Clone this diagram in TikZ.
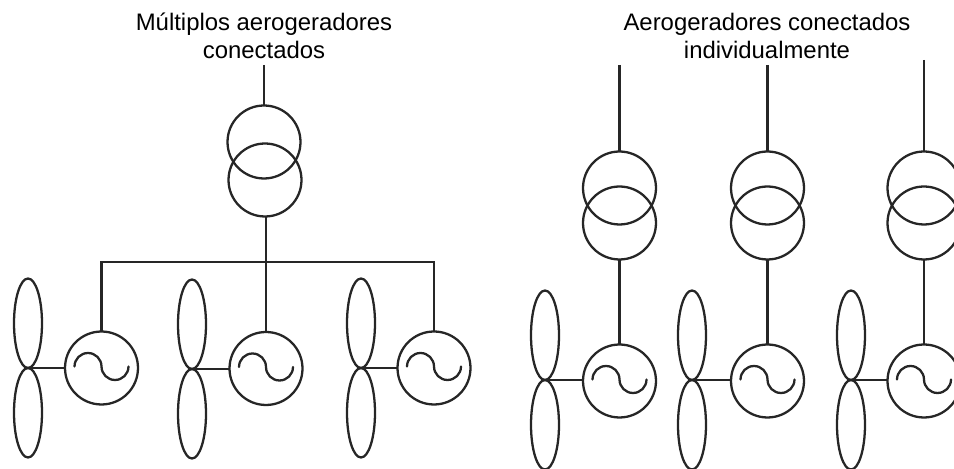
\documentclass[tikz,border=0pt]{standalone}
\usepackage{fontspec}
\setmainfont{Liberation Sans}
\usetikzlibrary{shapes.geometric}

\tikzset{
  wire/.style={line width=1.3pt, color=black!85},
  coil/.style={circle, draw=black!85, line width=1.3pt, minimum size=1.46cm, inner sep=0pt, outer sep=0pt},
  gen/.style={coil, minimum size=1.46cm},
  blade/.style={ellipse, draw=black!85, line width=1.3pt, minimum width=0.56cm, minimum height=1.79cm, inner sep=0pt, outer sep=0pt},
  title/.style={align=center, font=\fontsize{13.6}{16}\selectfont}
}

\begin{document}
\begin{tikzpicture}[x=0.02cm, y=-0.02cm]
      \useasboundingbox (0,0) rectangle (954,469);
      % titles
      \node[title] (titleA) at (264,36) {Múltiplos aerogeradores\\conectados};
      \node[title] (titleB) at (767,36) {Aerogeradores conectados\\individualmente};
      % turbines: hub and generator
      \foreach \n/\hx/\hy/\gx/\gy in {1/28/368/101.5/368, 2/192/369/266/368.5, 3/361/368/434/368,
                                      4/545/380/619.5/381, 5/692/380/767.5/381, 6/851/380/924/381} {
        \coordinate (hub\n) at (\hx,\hy);
        \node[blade, anchor=south] (up\n) at (hub\n) {};
        \node[blade, anchor=north] (down\n) at (hub\n) {};
        \node[gen] (gen\n) at (\gx,\gy) {};
        \draw[wire] (hub\n) -- (gen\n.west |- hub\n);
        \draw[wire, line cap=round] ([xshift=-0.54cm,yshift=0.03cm]gen\n.center)
          arc[start angle=180, end angle=0, radius=0.27cm]
          arc[start angle=180, end angle=360, radius=0.27cm];
      }
      % common transformer
      \node[coil] (hi0) at (264,142) {};
      \node[coil] (lo0) at (265,180) {};
      \coordinate (top0) at (264,65);
      \coordinate (bus) at (266,262);
      \draw[wire] (top0) -- (hi0.north);
      \draw[wire] (lo0.south -| bus) -- (bus);
      \draw[wire] (gen1.north) |- (bus) -| (gen3.north);
      \draw[wire] (bus) -- (gen2.north);
      % one transformer per turbine
      \foreach \n/\tx/\ty in {4/619.5/65, 5/767.5/65, 6/924/60} {
        \node[coil] (hi\n) at (\tx,188) {};
        \node[coil] (lo\n) at (\tx,223) {};
        \coordinate (top\n) at (\tx,\ty);
        \draw[wire] (top\n) -- (hi\n.north);
        \draw[wire] (lo\n.south) -- (gen\n.north);
      }
    \end{tikzpicture}
\end{document}
